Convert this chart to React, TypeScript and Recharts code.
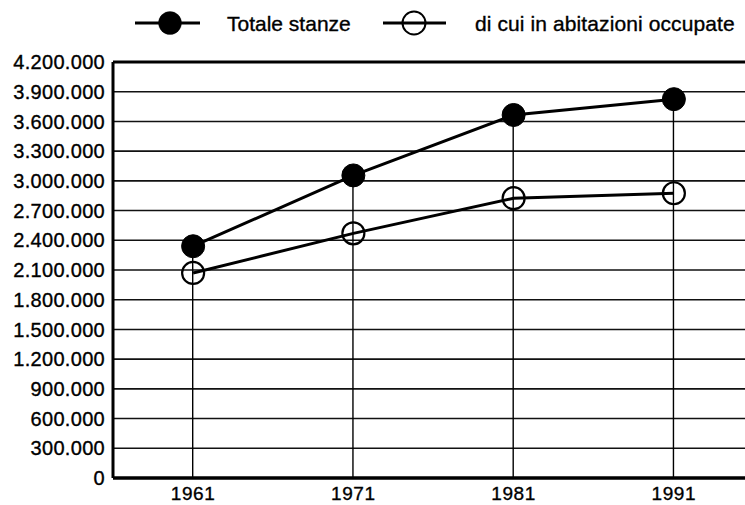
import React from "react";
import {
  ComposedChart,
  Line,
  Bar,
  XAxis,
  YAxis,
  CartesianGrid,
  ReferenceLine,
  Customized,
} from "recharts";

const years = ["1961", "1971", "1981", "1991"];
const totaleStanze = [2340000, 3055000, 3665000, 3825000];
const abitazioniOccupate = [2070000, 2470000, 2825000, 2875000];
const seriesNames = ["Totale stanze", "di cui in abitazioni occupate"];
const yTicks = [0, 300000, 600000, 900000, 1200000, 1500000, 1800000, 2100000, 2400000, 2700000, 3000000, 3300000, 3600000, 3900000, 4200000];

const data = years.map((y, i) => ({
  year: y,
  totale: totaleStanze[i],
  occupate: abitazioniOccupate[i],
}));

const FONT = "'Liberation Sans', Arial, Helvetica, sans-serif";

const fmt = (v: number) => String(v).replace(/\B(?=(\d{3})+(?!\d))/g, ".");

const FilledDot = (props: any) => {
  const { cx, cy } = props;
  if (cx == null || cy == null) return null;
  return <circle cx={cx} cy={cy} r={11.5} fill="#000" stroke="#000" strokeWidth={1} />;
};

const HollowDot = (props: any) => {
  const { cx, cy } = props;
  if (cx == null || cy == null) return null;
  return <circle cx={cx} cy={cy} r={11} fill="none" stroke="#000" strokeWidth={2.2} />;
};

const LegendSvg = () => (
  <g fontFamily={FONT} fontSize={21} fill="#000" stroke="#000" strokeWidth={0.35}>
    <line x1={135} y1={23} x2={200} y2={23} stroke="#000" strokeWidth={3} />
    <circle cx={170} cy={23} r={11.5} fill="#000" />
    <text x={227} y={31}>{seriesNames[0]}</text>
    <line x1={383} y1={23} x2={446} y2={23} stroke="#000" strokeWidth={3} />
    <circle cx={414} cy={23} r={11.5} fill="none" stroke="#000" strokeWidth={2} />
    <text x={475} y={31} letterSpacing={0.1}>{seriesNames[1]}</text>
  </g>
);

const yTickStyle = {
  fill: "#000",
  stroke: "#000",
  strokeWidth: 0.35,
  fontSize: 20,
  fontFamily: FONT,
  letterSpacing: 0.3,
};

const xTickStyle = {
  fill: "#000",
  stroke: "#000",
  strokeWidth: 0.35,
  fontSize: 19,
  fontFamily: FONT,
  letterSpacing: 0.6,
};

export default function App() {
  return (
    <div style={{ position: "absolute", left: 0, top: 0, width: 745, height: 505, overflow: "hidden", background: "#fff" }}>
      <ComposedChart
        width={754}
        height={505}
        data={data}
        margin={{ top: 62, right: 0, bottom: 0, left: 0 }}
        barCategoryGap={0}
      >
        <CartesianGrid horizontal vertical={false} stroke="#111" strokeWidth={1.6} />
        <ReferenceLine y={4200000} stroke="#000" strokeWidth={3} />
        <XAxis
          dataKey="year"
          height={27}
          tickLine={false}
          tickMargin={3}
          axisLine={{ stroke: "#000", strokeWidth: 3.5 }}
          tick={xTickStyle}
        />
        <YAxis
          width={113}
          domain={[0, 4200000]}
          ticks={yTicks}
          interval={0}
          tickFormatter={fmt}
          tickLine={false}
          axisLine={{ stroke: "#000", strokeWidth: 3 }}
          tick={yTickStyle}
        />
        <Bar dataKey="totale" barSize={1.4} fill="#000" isAnimationActive={false} />
        <Line
          dataKey="occupate"
          type="linear"
          stroke="#000"
          strokeWidth={3}
          dot={<HollowDot />}
          activeDot={false}
          isAnimationActive={false}
        />
        <Line
          dataKey="totale"
          type="linear"
          stroke="#000"
          strokeWidth={3}
          dot={<FilledDot />}
          activeDot={false}
          isAnimationActive={false}
        />
        <Customized component={LegendSvg} />
      </ComposedChart>
    </div>
  );
}
